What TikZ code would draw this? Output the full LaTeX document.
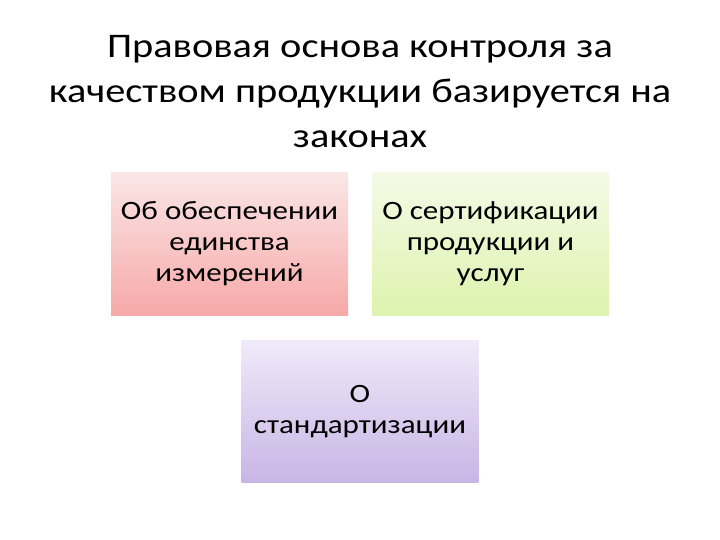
\documentclass[tikz,border=0pt]{standalone}
\usepackage{fontspec}
\setmainfont{Carlito}
\newfontfamily\slidefont[FakeStretch=1.17]{Carlito}

\begin{document}
\begin{tikzpicture}[x=1pt, y=-1pt,
	law/.style={minimum width=237pt, minimum height=142pt, align=center,
		font=\slidefont\fontsize{26.5}{31}\selectfont},
	pinkbox/.style={law, top color=pinktop, bottom color=pinkbot},
	greenbox/.style={law, top color=greentop, bottom color=greenbot},
	lilacbox/.style={law, top color=lilactop, bottom color=lilacbot}]
	\definecolor{pinktop}{HTML}{FAE6E6}
	\definecolor{pinkbot}{HTML}{F7A9A9}
	\definecolor{greentop}{HTML}{F4FAE6}
	\definecolor{greenbot}{HTML}{DDF3AE}
	\definecolor{lilactop}{HTML}{F0EAF9}
	\definecolor{lilacbot}{HTML}{C8B5E5}
	\useasboundingbox (0,0) rectangle (720,540);
	\node[align=center, font=\slidefont\fontsize{34.5}{45}\selectfont] (title) at (360,92)
		{Правовая основа контроля за\\качеством продукции базируется на\\законах};
	\node[pinkbox] (metro) at (229.5,244) {Об обеспечении\\единства\\измерений};
	\node[greenbox] (cert) at (490.5,244) {О сертификации\\продукции и\\услуг};
	\node[lilacbox] (stand) at (360,411.5) {О\\стандартизации};
\end{tikzpicture}
\end{document}
